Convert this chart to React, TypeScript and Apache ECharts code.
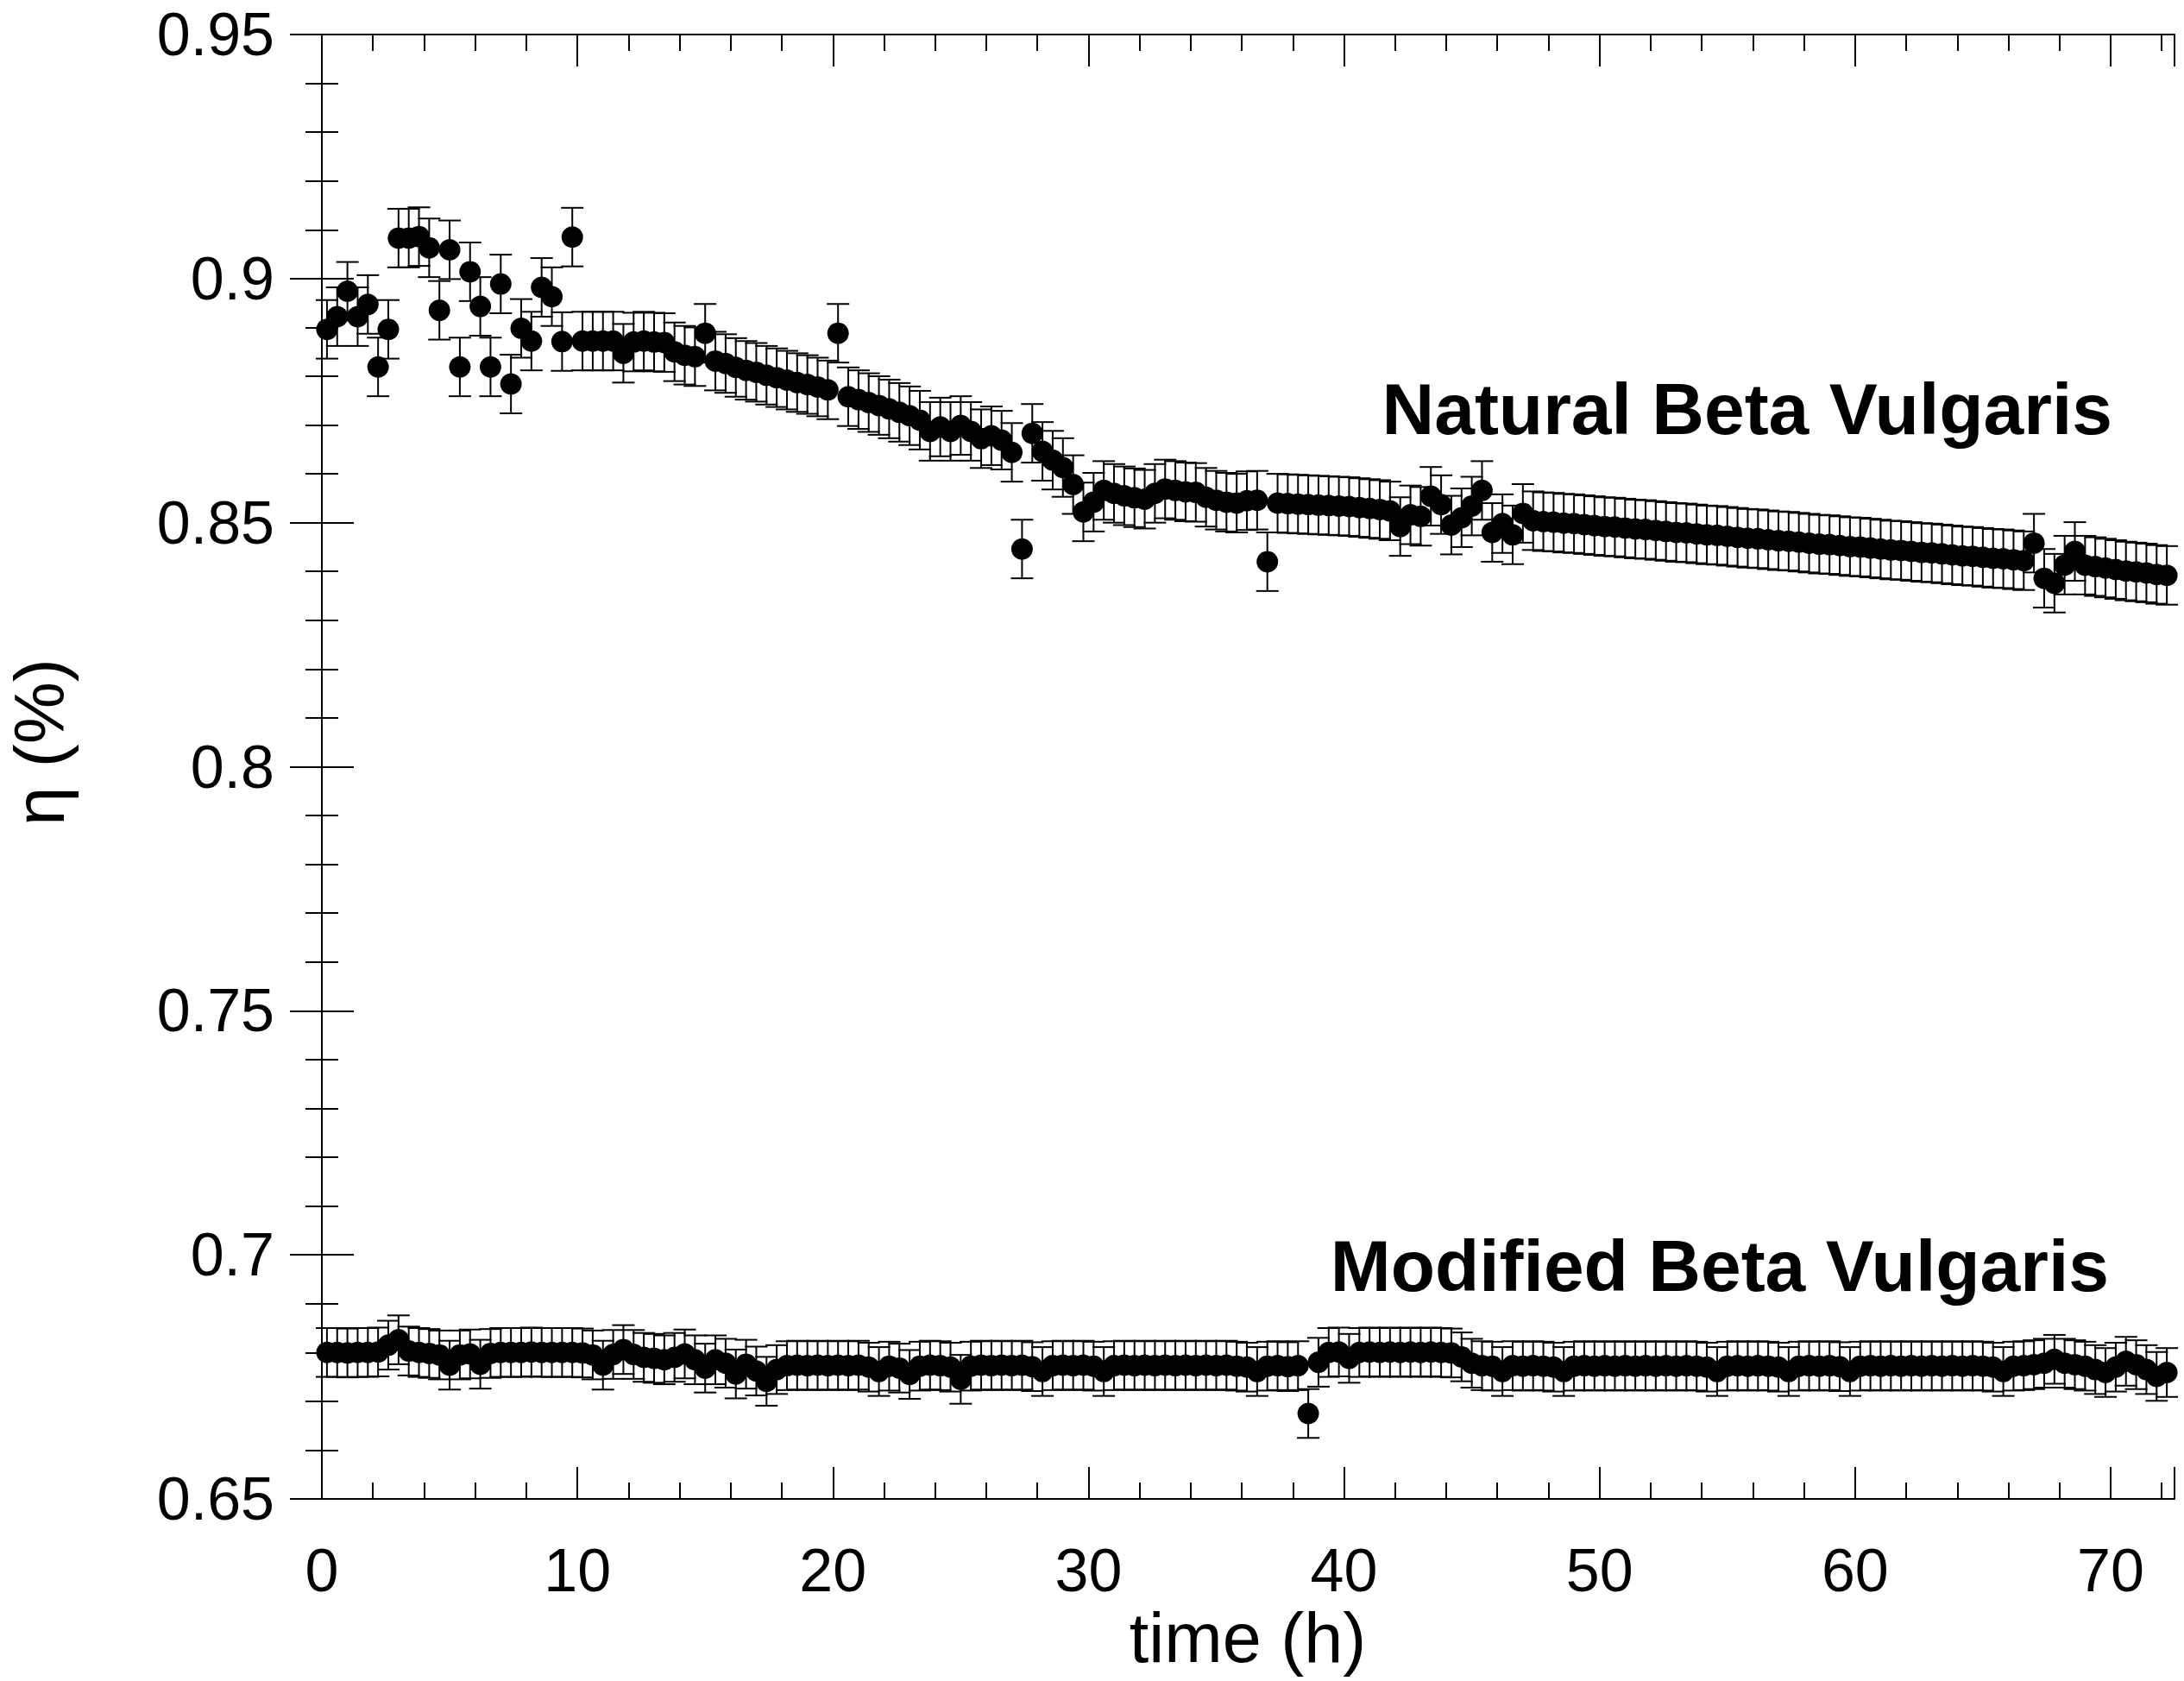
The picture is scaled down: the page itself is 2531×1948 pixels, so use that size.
import React, { useEffect, useRef } from "react";
import * as echarts from "echarts";

// Sampling times (h)
const times: number[] = [
  0.2, 0.6, 1.0, 1.4, 1.8, 2.2, 2.6, 3.0, 3.4, 3.8,
  4.2, 4.6, 5.0, 5.4, 5.8, 6.2, 6.6, 7.0, 7.4, 7.8,
  8.2, 8.6, 9.0, 9.4, 9.8, 10.2, 10.6, 11.0, 11.4, 11.8,
  12.2, 12.6, 13.0, 13.4, 13.8, 14.2, 14.6, 15.0, 15.4, 15.8,
  16.2, 16.6, 17.0, 17.4, 17.8, 18.2, 18.6, 19.0, 19.4, 19.8,
  20.2, 20.6, 21.0, 21.4, 21.8, 22.2, 22.6, 23.0, 23.4, 23.8,
  24.2, 24.6, 25.0, 25.4, 25.8, 26.2, 26.6, 27.0, 27.4, 27.8,
  28.2, 28.6, 29.0, 29.4, 29.8, 30.2, 30.6, 31.0, 31.4, 31.8,
  32.2, 32.6, 33.0, 33.4, 33.8, 34.2, 34.6, 35.0, 35.4, 35.8,
  36.2, 36.6, 37.0, 37.4, 37.8, 38.2, 38.6, 39.0, 39.4, 39.8,
  40.2, 40.6, 41.0, 41.4, 41.8, 42.2, 42.6, 43.0, 43.4, 43.8,
  44.2, 44.6, 45.0, 45.4, 45.8, 46.2, 46.6, 47.0, 47.4, 47.8,
  48.2, 48.6, 49.0, 49.4, 49.8, 50.2, 50.6, 51.0, 51.4, 51.8,
  52.2, 52.6, 53.0, 53.4, 53.8, 54.2, 54.6, 55.0, 55.4, 55.8,
  56.2, 56.6, 57.0, 57.4, 57.8, 58.2, 58.6, 59.0, 59.4, 59.8,
  60.2, 60.6, 61.0, 61.4, 61.8, 62.2, 62.6, 63.0, 63.4, 63.8,
  64.2, 64.6, 65.0, 65.4, 65.8, 66.2, 66.6, 67.0, 67.4, 67.8,
  68.2, 68.6, 69.0, 69.4, 69.8, 70.2, 70.6, 71.0, 71.4, 71.8,
  72.2,
];

// Natural Beta Vulgaris efficiency
const naturalValues: number[] = [
  0.8896, 0.8922, 0.8974, 0.8922, 0.8947, 0.8819, 0.8896, 0.9083, 0.9083, 0.9086,
  0.9063, 0.8935, 0.9059, 0.8819, 0.9014, 0.8943, 0.8819, 0.8989, 0.8784, 0.8898,
  0.8872, 0.8982, 0.8963, 0.8871, 0.9085, 0.8872, 0.8872, 0.8872, 0.8872, 0.8847,
  0.8870, 0.8872, 0.8870, 0.8869, 0.8850, 0.8843, 0.8840, 0.8888, 0.8831, 0.8826,
  0.8818, 0.8812, 0.8808, 0.8802, 0.8797, 0.8792, 0.8787, 0.8783, 0.8778, 0.8772,
  0.8888, 0.8758, 0.8752, 0.8746, 0.8740, 0.8733, 0.8726, 0.8719, 0.8710, 0.8687,
  0.8696, 0.8687, 0.8699, 0.8687, 0.8672, 0.8678, 0.8669, 0.8644, 0.8446, 0.8683,
  0.8646, 0.8628, 0.8613, 0.8578, 0.8522, 0.8542, 0.8566, 0.8560, 0.8555, 0.8551,
  0.8548, 0.8560, 0.8569, 0.8566, 0.8563, 0.8562, 0.8552, 0.8546, 0.8542, 0.8540,
  0.8545, 0.8546, 0.8420, 0.8540, 0.8539, 0.8538, 0.8537, 0.8536, 0.8535, 0.8534,
  0.8533, 0.8531, 0.8529, 0.8527, 0.8524, 0.8492, 0.8516, 0.8513, 0.8554, 0.8537,
  0.8495, 0.8510, 0.8534, 0.8566, 0.8480, 0.8498, 0.8475, 0.8519, 0.8504, 0.8502,
  0.8501, 0.8499, 0.8498, 0.8496, 0.8494, 0.8492, 0.8491, 0.8489, 0.8487, 0.8486,
  0.8484, 0.8482, 0.8480, 0.8479, 0.8477, 0.8475, 0.8474, 0.8472, 0.8470, 0.8468,
  0.8467, 0.8465, 0.8463, 0.8462, 0.8460, 0.8458, 0.8456, 0.8455, 0.8453, 0.8451,
  0.8450, 0.8448, 0.8446, 0.8444, 0.8443, 0.8441, 0.8439, 0.8438, 0.8436, 0.8434,
  0.8432, 0.8431, 0.8429, 0.8427, 0.8426, 0.8424, 0.8422, 0.8458, 0.8386, 0.8376,
  0.8413, 0.8441, 0.8413, 0.8410, 0.8407, 0.8404, 0.8401, 0.8399, 0.8397, 0.8394,
  0.8392,
];

// Modified Beta Vulgaris efficiency
const modifiedValues: number[] = [
  0.6800, 0.6800, 0.6799, 0.6800, 0.6800, 0.6801, 0.6815, 0.6826, 0.6803, 0.6800,
  0.6798, 0.6795, 0.6774, 0.6795, 0.6797, 0.6776, 0.6798, 0.6800, 0.6800, 0.6800,
  0.6801, 0.6800, 0.6800, 0.6800, 0.6800, 0.6799, 0.6795, 0.6774, 0.6796, 0.6806,
  0.6796, 0.6790, 0.6788, 0.6785, 0.6790, 0.6797, 0.6785, 0.6768, 0.6785, 0.6778,
  0.6756, 0.6776, 0.6762, 0.6741, 0.6765, 0.6773, 0.6774, 0.6773, 0.6774, 0.6773,
  0.6774, 0.6773, 0.6774, 0.6770, 0.6761, 0.6772, 0.6768, 0.6755, 0.6772, 0.6774,
  0.6773, 0.6770, 0.6745, 0.6772, 0.6774, 0.6773, 0.6774, 0.6773, 0.6774, 0.6771,
  0.6761, 0.6773, 0.6774, 0.6773, 0.6774, 0.6772, 0.6761, 0.6773, 0.6774, 0.6773,
  0.6774, 0.6773, 0.6774, 0.6773, 0.6774, 0.6773, 0.6774, 0.6773, 0.6774, 0.6772,
  0.6770, 0.6761, 0.6772, 0.6773, 0.6771, 0.6773, 0.6675, 0.6780, 0.6800, 0.6801,
  0.6788, 0.6800, 0.6801, 0.6800, 0.6801, 0.6800, 0.6801, 0.6800, 0.6801, 0.6800,
  0.6799, 0.6791, 0.6778, 0.6773, 0.6772, 0.6761, 0.6773, 0.6772, 0.6773, 0.6772,
  0.6770, 0.6761, 0.6772, 0.6773, 0.6772, 0.6773, 0.6772, 0.6773, 0.6772, 0.6773,
  0.6772, 0.6773, 0.6772, 0.6773, 0.6772, 0.6770, 0.6761, 0.6772, 0.6773, 0.6772,
  0.6773, 0.6772, 0.6770, 0.6761, 0.6772, 0.6773, 0.6772, 0.6773, 0.6771, 0.6761,
  0.6772, 0.6773, 0.6772, 0.6773, 0.6772, 0.6773, 0.6772, 0.6773, 0.6772, 0.6773,
  0.6772, 0.6773, 0.6772, 0.6770, 0.6761, 0.6772, 0.6773, 0.6775, 0.6778, 0.6786,
  0.6778, 0.6775, 0.6772, 0.6765, 0.6759, 0.6770, 0.6782, 0.6775, 0.6765, 0.6751,
  0.6759,
];

// Error bar half-widths
const naturalError = 0.006;
const modifiedError = 0.005;

// Axis ticks / labels
const xMajorTicks: number[] = [0, 10, 20, 30, 40, 50, 60, 70];
const yTickLabels: string[] = ["0.65", "0.7", "0.75", "0.8", "0.85", "0.9", "0.95"];
const labelNatural = "Natural Beta Vulgaris";
const labelModified = "Modified Beta Vulgaris";
const xTitle = "time (h)";
const yTitle = "η (%)";

const FONT = "'Liberation Sans', Arial, Helvetica, sans-serif";

const errorRender = (_params: any, api: any) => {
  const x = api.value(0);
  const y = api.value(1);
  const e = api.value(2);
  const top = api.coord([x, y + e]);
  const bot = api.coord([x, y - e]);
  const hw = 13;
  const style = { stroke: "#000", lineWidth: 2, fill: "none" };
  return {
    type: "group",
    children: [
      { type: "line", shape: { x1: top[0], y1: top[1], x2: bot[0], y2: bot[1] }, style },
      { type: "line", shape: { x1: top[0] - hw, y1: top[1], x2: top[0] + hw, y2: top[1] }, style },
      { type: "line", shape: { x1: bot[0] - hw, y1: bot[1], x2: bot[0] + hw, y2: bot[1] }, style },
    ],
  };
};

export default function App() {
  const ref = useRef<HTMLDivElement>(null);
  useEffect(() => {
    document.body.style.margin = "0";
    if (!ref.current) return;
    const chart = echarts.init(ref.current, undefined, { renderer: "svg" });

    const naturalPts = times.map((t, i) => [t, naturalValues[i]]);
    const modifiedPts = times.map((t, i) => [t, modifiedValues[i]]);
    const naturalErr = times.map((t, i) => [t, naturalValues[i], naturalError]);
    const modifiedErr = times.map((t, i) => [t, modifiedValues[i], modifiedError]);

    const lineStyle = { color: "#000", width: 2 };
    const xBase = {
      type: "value" as const,
      min: 0,
      max: 72.5,
      offset: 0,
      splitLine: { show: false },
    };
    const yBase = {
      type: "value" as const,
      min: 0.65,
      max: 0.95,
      offset: 0,
      splitLine: { show: false },
    };
    const minorX = (position: string) => ({
      ...xBase,
      position,
      interval: 2,
      axisLine: { show: false },
      axisTick: { show: true, inside: true, length: 19, lineStyle },
      axisLabel: { show: false },
    });
    const minorY = (position: string) => ({
      ...yBase,
      position,
      interval: 0.01,
      axisLine: { show: false },
      axisTick: { show: true, inside: true, length: 19, lineStyle },
      axisLabel: { show: false },
    });

    const option: any = {
      animation: false,
      backgroundColor: "#fff",
      grid: { left: 373, right: 11, top: 40, bottom: 211, containLabel: false },
      xAxis: [
        {
          ...xBase,
          position: "bottom",
          interval: 10,
          axisLine: { show: true, lineStyle },
          axisTick: { show: true, inside: true, length: 37, lineStyle },
          axisLabel: {
            show: true,
            margin: 48,
            color: "#000",
            fontSize: 70,
            fontFamily: FONT,
            formatter: (v: number) => (xMajorTicks.indexOf(v) >= 0 ? String(v) : ""),
          },
        },
        minorX("bottom"),
        {
          ...xBase,
          position: "top",
          interval: 10,
          axisLine: { show: true, lineStyle },
          axisTick: { show: true, inside: true, length: 37, lineStyle },
          axisLabel: { show: false },
        },
        minorX("top"),
      ],
      yAxis: [
        {
          ...yBase,
          position: "left",
          interval: 0.05,
          axisLine: { show: true, lineStyle },
          axisTick: { show: true, inside: true, length: 37, lineStyle },
          axisLabel: {
            show: true,
            margin: 55,
            color: "#000",
            fontSize: 70,
            fontFamily: FONT,
            formatter: (v: number) => {
              const idx = Math.round((v - 0.65) / 0.05);
              return yTickLabels[idx] ?? "";
            },
          },
        },
        minorY("left"),
        {
          ...yBase,
          position: "right",
          interval: 0.05,
          axisLine: { show: true, lineStyle },
          axisTick: { show: true, inside: true, length: 37, lineStyle },
          axisLabel: { show: false },
        },
        minorY("right"),
      ],
      series: [
        {
          type: "custom",
          name: "natural-err",
          xAxisIndex: 0,
          yAxisIndex: 0,
          renderItem: errorRender,
          encode: { x: 0, y: 1 },
          data: naturalErr,
          z: 2,
          silent: true,
        },
        {
          type: "custom",
          name: "modified-err",
          xAxisIndex: 0,
          yAxisIndex: 0,
          renderItem: errorRender,
          encode: { x: 0, y: 1 },
          data: modifiedErr,
          z: 2,
          silent: true,
        },
        {
          type: "scatter",
          name: labelNatural,
          xAxisIndex: 0,
          yAxisIndex: 0,
          symbol: "circle",
          symbolSize: 25,
          itemStyle: { color: "#000", opacity: 1 },
          data: naturalPts,
          z: 3,
        },
        {
          type: "scatter",
          name: labelModified,
          xAxisIndex: 0,
          yAxisIndex: 0,
          symbol: "circle",
          symbolSize: 25,
          itemStyle: { color: "#000", opacity: 1 },
          data: modifiedPts,
          z: 3,
        },
      ],
      graphic: [
        {
          type: "text",
          x: 2448,
          y: 474,
          style: {
            text: labelNatural,
            fill: "#000",
            font: `bold 84px ${FONT}`,
            textAlign: "right",
            align: "right",
            textVerticalAlign: "middle",
            verticalAlign: "middle",
          },
        },
        {
          type: "text",
          x: 2444,
          y: 1467,
          style: {
            text: labelModified,
            fill: "#000",
            font: `bold 84px ${FONT}`,
            textAlign: "right",
            align: "right",
            textVerticalAlign: "middle",
            verticalAlign: "middle",
          },
        },
        {
          type: "text",
          x: 1446,
          y: 1898,
          style: {
            text: xTitle,
            fill: "#000",
            font: `81px ${FONT}`,
            textAlign: "center",
            align: "center",
            textVerticalAlign: "middle",
            verticalAlign: "middle",
          },
        },
        {
          type: "text",
          x: 46,
          y: 860,
          rotation: Math.PI / 2,
          style: {
            text: yTitle,
            fill: "#000",
            font: `81px ${FONT}`,
            textAlign: "center",
            align: "center",
            textVerticalAlign: "middle",
            verticalAlign: "middle",
          },
        },
      ],
    };
    chart.setOption(option);
    return () => chart.dispose();
  }, []);
  return <div ref={ref} style={{ width: 2531, height: 1948 }} />;
}
